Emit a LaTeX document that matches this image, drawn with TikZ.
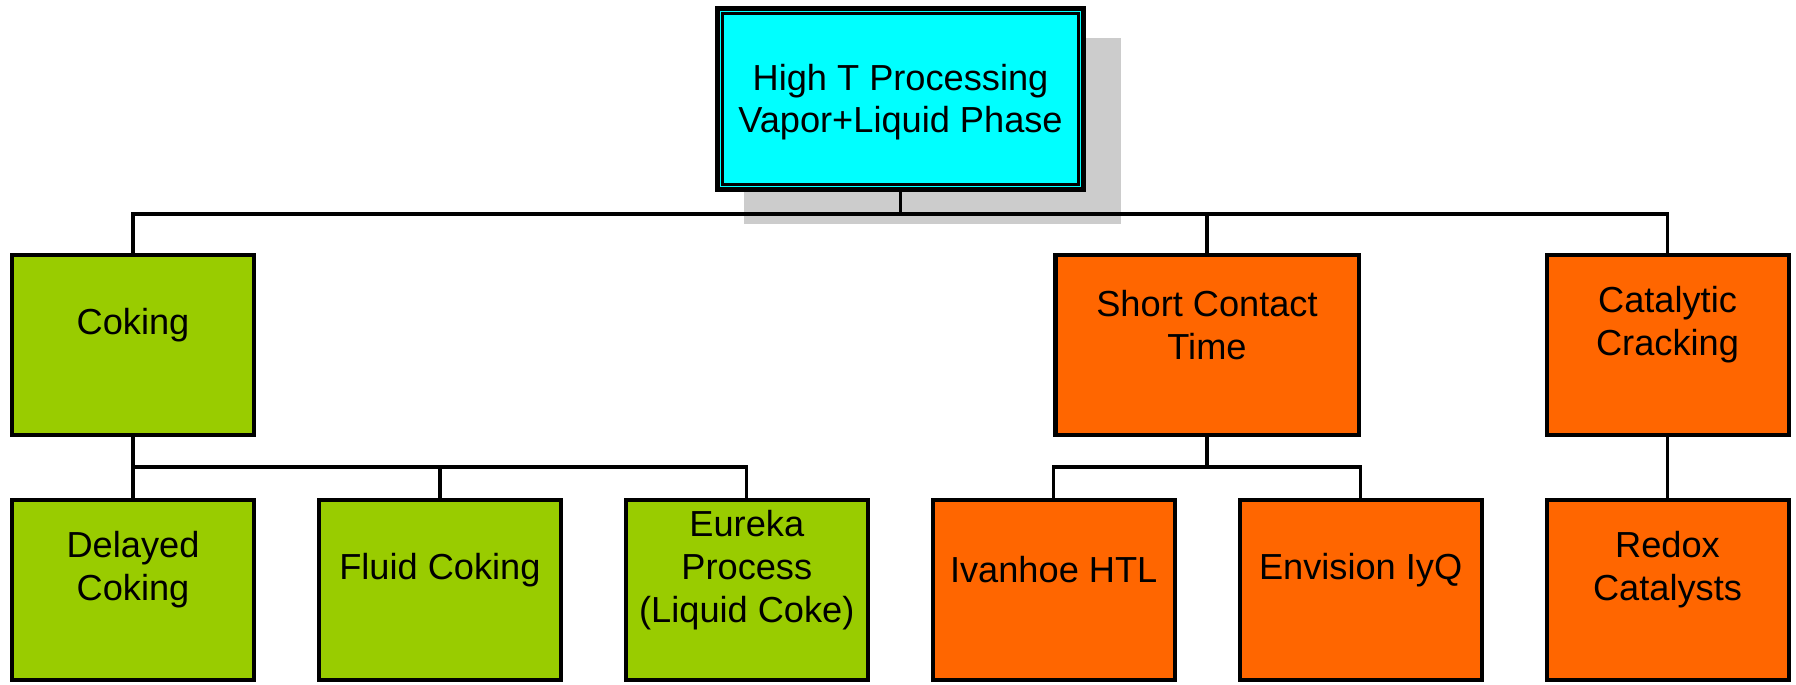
\documentclass[tikz,border=0pt]{standalone}
\usepackage{fontspec}
\setmainfont{Liberation Sans}
\usepackage{tikz}
\usetikzlibrary{shapes,positioning,calc,shadows}
\usepackage{xcolor}
\definecolor{topcyan}{HTML}{00FFFF}
\definecolor{cokegreen}{HTML}{99CC00}
\definecolor{procorange}{HTML}{FF6600}

\begin{document}
\begin{tikzpicture}[
    box/.style={rectangle, draw, line width=1.15pt, minimum width=2.42cm,
                minimum height=1.80cm, inner sep=0pt},
    txt/.style={align=center, yshift=0.20cm,
                font=\fontsize{10.3pt}{12.3pt}\selectfont},
    conn/.style={line width=0.95pt}
  ]
  \useasboundingbox (0,0) rectangle (17.96,6.84);

  % Top box with shadow
  \node[rectangle, draw, line width=1.4pt, fill=topcyan, minimum width=3.66cm,
        minimum height=1.81cm, inner sep=0pt,
        label={[txt, yshift=-0.23cm, font=\fontsize{10.3pt}{11.9pt}\selectfont]
               center:High T Processing\\Vapor+Liquid Phase},
        drop shadow={shadow xshift=0.31cm, shadow yshift=-0.31cm,
                     shadow scale=1.03, fill=black!20, opacity=1}]
        (top) at (9.005, 5.85) {};
  \draw[line width=0.85pt] ([shift={(0.072,-0.072)}]top.north west)
        rectangle ([shift={(-0.072,0.072)}]top.south east);

  % Level 1
  \node[box, fill=cokegreen, label={[txt]center:Coking}] (coking) at (1.33, 3.39) {};
  \node[box, fill=procorange, minimum width=3.03cm,
        label={[txt]center:Short Contact\\Time}] (sct) at (12.07, 3.39) {};
  \node[box, fill=procorange, label={[txt]center:Catalytic\\Cracking}] (cat) at (16.675, 3.39) {};

  % Level 2
  \node[box, fill=cokegreen, label={[txt]center:Delayed\\Coking}] (delayed) at (1.33, 0.94) {};
  \node[box, fill=cokegreen, label={[txt]center:Fluid Coking}] (fluid) at (4.399, 0.94) {};
  \node[box, fill=cokegreen,
        label={[txt]center:Eureka\\Process\\(Liquid Coke)}] (eureka) at (7.468, 0.94) {};
  \node[box, fill=procorange, label={[txt]center:Ivanhoe HTL}] (ivanhoe) at (10.537, 0.94) {};
  \node[box, fill=procorange, label={[txt]center:Envision IyQ}] (envision) at (13.606, 0.94) {};
  \node[box, fill=procorange, label={[txt]center:Redox\\Catalysts}] (redox) at (16.675, 0.94) {};

  % Bus points
  \coordinate (topbus) at (9.005, 4.70);
  \coordinate (cokebus) at (1.33, 2.17);
  \coordinate (sctbus) at (12.07, 2.17);

  % Top to level 1
  \draw[conn] (top.south) -- (topbus);
  \draw[conn] (coking.north) |- (topbus) -| (cat.north);
  \draw[conn] (sct.north) -- (sct.north |- topbus);

  % Level 1 to level 2
  \draw[conn] (coking.south) -- (delayed.north);
  \draw[conn] (fluid.north) |- (cokebus);
  \draw[conn] (eureka.north) |- (cokebus);
  \draw[conn] (sct.south) -- (sctbus);
  \draw[conn] (ivanhoe.north) |- (sctbus) -| (envision.north);
  \draw[conn] (cat.south) -- (redox.north);

\end{tikzpicture}
\end{document}
